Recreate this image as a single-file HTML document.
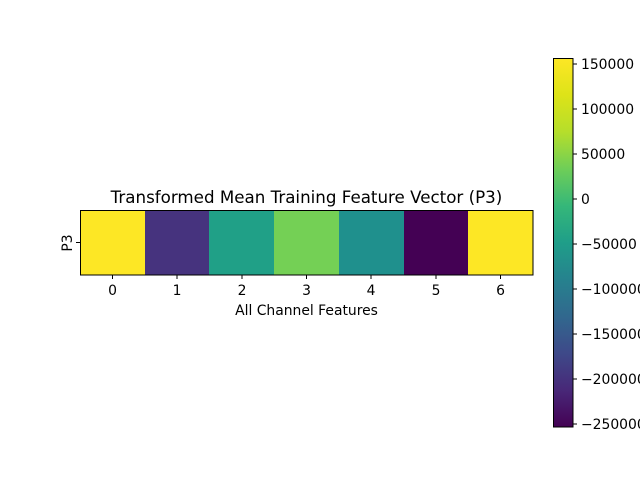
<!DOCTYPE html>
<html><head><meta charset="utf-8"><style>body{margin:0;background:#fff}svg{display:block}</style></head>
<body>
<svg width="640" height="480" xmlns="http://www.w3.org/2000/svg" font-family="DejaVu Sans, Liberation Sans, sans-serif" font-size="13.9" fill="#000">
<defs>
<linearGradient id="v" x1="0" y1="1" x2="0" y2="0">
<stop offset="0" stop-color="#440154"/>
<stop offset="0.1" stop-color="#482878"/>
<stop offset="0.2" stop-color="#3e4989"/>
<stop offset="0.3" stop-color="#31688e"/>
<stop offset="0.4" stop-color="#26828e"/>
<stop offset="0.5" stop-color="#1f9e89"/>
<stop offset="0.6" stop-color="#35b779"/>
<stop offset="0.7" stop-color="#6ece58"/>
<stop offset="0.8" stop-color="#b5de2b"/>
<stop offset="0.9" stop-color="#dde318"/>
<stop offset="1" stop-color="#fde725"/>
</linearGradient>
</defs>
<text x="306.5" y="203" text-anchor="middle" font-size="16.7">Transformed Mean Training Feature Vector (P3)</text>
<rect x="80" y="210" width="65" height="65" fill="#fde725"/>
<rect x="145" y="210" width="65" height="65" fill="#46337e"/>
<rect x="209" y="210" width="65" height="65" fill="#20a087"/>
<rect x="274" y="210" width="65" height="65" fill="#74d055"/>
<rect x="339" y="210" width="65" height="65" fill="#1f908d"/>
<rect x="404" y="210" width="65" height="65" fill="#440154"/>
<rect x="468" y="210" width="65" height="65" fill="#fde725"/>
<rect x="80.5" y="210.5" width="452.5" height="64.5" fill="none" stroke="#000" stroke-width="1"/>
<g stroke="#000" stroke-width="1">
<line x1="112.5" y1="275" x2="112.5" y2="279"/><line x1="177" y1="275" x2="177" y2="279"/><line x1="242" y1="275" x2="242" y2="279"/><line x1="306.5" y1="275" x2="306.5" y2="279"/><line x1="371" y1="275" x2="371" y2="279"/><line x1="436" y1="275" x2="436" y2="279"/><line x1="500.5" y1="275" x2="500.5" y2="279"/>
<line x1="76" y1="242.5" x2="80" y2="242.5"/>
</g>
<g text-anchor="middle">
<text x="112.5" y="295">0</text><text x="177" y="295">1</text><text x="242" y="295">2</text><text x="306.5" y="295">3</text><text x="371" y="295">4</text><text x="436" y="295">5</text><text x="500.5" y="295">6</text>
<text x="306.5" y="315">All Channel Features</text>
</g>
<text transform="translate(72,243) rotate(-90)" text-anchor="middle">P3</text>
<rect x="553.5" y="58.5" width="19.5" height="368.5" fill="url(#v)" stroke="#000" stroke-width="1"/>
<g stroke="#000" stroke-width="1">
<line x1="573" y1="64" x2="577" y2="64"/><line x1="573" y1="109" x2="577" y2="109"/><line x1="573" y1="154" x2="577" y2="154"/><line x1="573" y1="199" x2="577" y2="199"/><line x1="573" y1="244" x2="577" y2="244"/><line x1="573" y1="289" x2="577" y2="289"/><line x1="573" y1="334" x2="577" y2="334"/><line x1="573" y1="379" x2="577" y2="379"/><line x1="573" y1="424" x2="577" y2="424"/>
</g>
<g>
<text x="581" y="69">150000</text><text x="581" y="114">100000</text><text x="581" y="159">50000</text><text x="581" y="204">0</text><text x="581" y="249">−50000</text><text x="581" y="294">−100000</text><text x="581" y="339">−150000</text><text x="581" y="384">−200000</text><text x="581" y="429">−250000</text>
</g>
</svg>
</body></html>
